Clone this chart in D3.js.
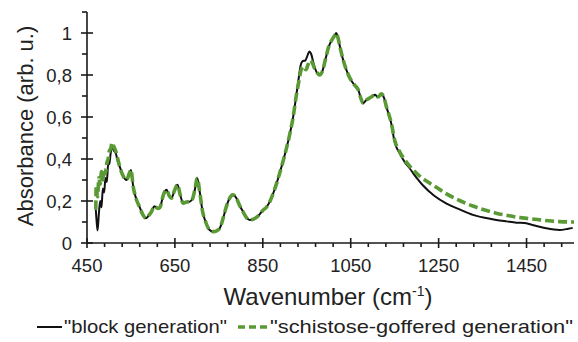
<!DOCTYPE html>
<html>
<head>
<meta charset="utf-8">
<script src="https://cdn.jsdelivr.net/npm/d3@7"></script>
<style>
  body { margin: 0; background: #fff; }
  svg { display: block; font-family: Arial, "Liberation Sans", sans-serif; }
</style>
</head>
<body>
<svg id="chart"></svg>
<script>
// "block generation" spectrum
const blockWn = [470, 472, 474, 477, 480, 483, 486, 489, 492, 495, 498, 501, 504, 507, 511, 515, 520, 525, 532, 540, 546, 550, 555, 562, 570, 577, 584, 590, 597, 603, 607, 612, 616, 624, 631, 637, 642, 649, 656, 662, 669, 676, 684, 690, 695, 701, 706, 713, 720, 729, 737, 745, 752, 760, 767, 775, 781, 786, 790, 797, 803, 810, 820, 830, 840, 850, 858, 866, 876, 888, 900, 911, 919, 926, 932, 936, 940, 947, 952, 956, 960, 966, 972, 979, 985, 992, 1000, 1008, 1014, 1017, 1020, 1026, 1033, 1040, 1047, 1055, 1062, 1067, 1073, 1078, 1085, 1093, 1100, 1105, 1112, 1120, 1126, 1131, 1137, 1142, 1150, 1161, 1173, 1184, 1200, 1214, 1240, 1267, 1300, 1328, 1355, 1381, 1405, 1427, 1445, 1460, 1475, 1495, 1525, 1545, 1555]
const blockAbs = [0.16, 0.10, 0.06, 0.14, 0.20, 0.17, 0.26, 0.24, 0.31, 0.29, 0.37, 0.38, 0.43, 0.465, 0.44, 0.43, 0.39, 0.36, 0.32, 0.30, 0.33, 0.348, 0.27, 0.21, 0.17, 0.135, 0.118, 0.13, 0.15, 0.175, 0.17, 0.165, 0.17, 0.23, 0.253, 0.225, 0.213, 0.25, 0.277, 0.23, 0.19, 0.195, 0.197, 0.21, 0.25, 0.308, 0.25, 0.15, 0.10, 0.062, 0.054, 0.058, 0.07, 0.12, 0.173, 0.215, 0.229, 0.225, 0.213, 0.18, 0.157, 0.13, 0.11, 0.115, 0.13, 0.155, 0.17, 0.197, 0.25, 0.33, 0.42, 0.515, 0.6, 0.7, 0.79, 0.845, 0.865, 0.87, 0.895, 0.912, 0.9, 0.85, 0.815, 0.80, 0.815, 0.87, 0.935, 0.97, 0.99, 1.0, 0.985, 0.93, 0.87, 0.825, 0.79, 0.762, 0.745, 0.73, 0.69, 0.666, 0.68, 0.69, 0.70, 0.706, 0.695, 0.71, 0.69, 0.65, 0.61, 0.571, 0.48, 0.428, 0.385, 0.356, 0.31, 0.275, 0.225, 0.189, 0.158, 0.134, 0.12, 0.11, 0.103, 0.097, 0.095, 0.088, 0.08, 0.07, 0.062, 0.068, 0.072]

// "schistose-goffered generation" spectrum
const schistWn = [470, 471, 474, 477, 480, 483, 486, 489, 492, 495, 498, 501, 504, 507, 511, 515, 520, 525, 532, 540, 546, 550, 555, 562, 570, 577, 584, 590, 597, 603, 607, 612, 616, 624, 631, 637, 642, 649, 656, 662, 669, 676, 684, 690, 695, 701, 706, 713, 720, 729, 737, 745, 752, 760, 767, 775, 781, 786, 790, 797, 803, 810, 820, 830, 840, 850, 858, 866, 876, 888, 900, 911, 919, 926, 932, 936, 942, 948, 953, 957, 962, 968, 974, 979, 985, 992, 1000, 1008, 1014, 1017, 1020, 1026, 1033, 1040, 1047, 1055, 1062, 1067, 1073, 1078, 1085, 1093, 1100, 1105, 1112, 1120, 1126, 1131, 1137, 1142, 1150, 1160, 1175, 1192, 1210, 1230, 1250, 1268, 1300, 1328, 1355, 1381, 1410, 1434, 1460, 1480, 1500, 1525, 1558]
const schistAbs = [0.16, 0.27, 0.22, 0.31, 0.28, 0.34, 0.30, 0.35, 0.33, 0.38, 0.40, 0.44, 0.45, 0.478, 0.46, 0.44, 0.40, 0.36, 0.32, 0.30, 0.33, 0.348, 0.27, 0.21, 0.17, 0.135, 0.118, 0.13, 0.15, 0.175, 0.17, 0.165, 0.17, 0.23, 0.253, 0.225, 0.213, 0.25, 0.277, 0.23, 0.19, 0.195, 0.197, 0.21, 0.25, 0.308, 0.25, 0.15, 0.10, 0.062, 0.054, 0.058, 0.07, 0.12, 0.173, 0.215, 0.229, 0.225, 0.213, 0.18, 0.157, 0.13, 0.11, 0.115, 0.13, 0.155, 0.17, 0.197, 0.25, 0.33, 0.42, 0.515, 0.6, 0.7, 0.77, 0.815, 0.84, 0.825, 0.85, 0.87, 0.86, 0.83, 0.81, 0.80, 0.815, 0.87, 0.935, 0.97, 0.99, 1.0, 0.985, 0.93, 0.87, 0.825, 0.79, 0.762, 0.745, 0.73, 0.69, 0.666, 0.68, 0.69, 0.70, 0.706, 0.695, 0.71, 0.69, 0.65, 0.61, 0.575, 0.49, 0.44, 0.39, 0.348, 0.313, 0.285, 0.258, 0.234, 0.2, 0.176, 0.157, 0.142, 0.13, 0.121, 0.115, 0.11, 0.106, 0.102, 0.1]

const xTicks = [450, 650, 850, 1050, 1250, 1450]
const yTicks = [0, 0.2, 0.4, 0.6, 0.8, 1]
const legendNames = ['"block generation"', '"schistose-goffered generation"']

const width = 578,
    height = 342
const svg = d3.select('#chart').attr('width', width).attr('height', height)

const x = d3.scaleLinear().domain([450, 1558]).range([87, 574])
const y = d3.scaleLinear().domain([0, 1.1]).range([243, 12])

const axisColor = '#1a1a1a'
const fmt = (d) => String(d).replace('.', ',')

// minor ticks (outside only)
const xMinor = d3.range(450, 1558, 40).filter((d) => (d - 450) % 200 !== 0)
const yMinor = d3.range(1, 12).map((i) => i / 10).filter((_, i) => i % 2 === 0)

const lines = svg.append('g')
const line = d3
    .line()
    .curve(d3.curveMonotoneX)
    .x((d) => x(d[0]))
    .y((d) => y(d[1]))

lines.append('path')
    .attr('d', line(d3.zip(blockWn, blockAbs)))
    .attr('fill', 'none')
    .attr('stroke', '#111')
    .attr('stroke-width', 2)

lines.append('path')
    .attr('d', line(d3.zip(schistWn, schistAbs)))
    .attr('fill', 'none')
    .attr('stroke', '#5a9a35')
    .attr('stroke-width', 3.6)
    .attr('stroke-dasharray', '9,4')

// axes
const axes = svg.append('g').attr('stroke', axisColor).attr('stroke-width', 1.6)
axes.append('line').attr('x1', x(450)).attr('x2', x(1558)).attr('y1', y(0)).attr('y2', y(0))
axes.append('line').attr('x1', x(450)).attr('x2', x(450)).attr('y1', y(0)).attr('y2', y(1.1))

axes.selectAll('.xmaj').data(xTicks).join('line')
    .attr('x1', (d) => x(d)).attr('x2', (d) => x(d))
    .attr('y1', y(0) - 5).attr('y2', y(0) + 5)
axes.selectAll('.xmin').data(xMinor).join('line')
    .attr('x1', (d) => x(d)).attr('x2', (d) => x(d))
    .attr('y1', y(0)).attr('y2', y(0) + 4)
axes.selectAll('.ymaj').data(yTicks).join('line')
    .attr('y1', (d) => y(d)).attr('y2', (d) => y(d))
    .attr('x1', x(450) - 6).attr('x2', x(450) + 6)
axes.selectAll('.ymin').data(yMinor).join('line')
    .attr('y1', (d) => y(d)).attr('y2', (d) => y(d))
    .attr('x1', x(450) - 5).attr('x2', x(450))

svg.append('g').selectAll('text').data(xTicks).join('text')
    .attr('x', (d) => x(d))
    .attr('y', 272)
    .attr('text-anchor', 'middle')
    .attr('font-size', 18.5)
    .attr('fill', '#222')
    .text((d) => d)

svg.append('g').selectAll('text').data(yTicks).join('text')
    .attr('x', 72)
    .attr('y', (d) => y(d) + 6.5)
    .attr('text-anchor', 'end')
    .attr('font-size', 18.5)
    .attr('fill', '#222')
    .text(fmt)

// axis titles
const xt = svg.append('text')
    .attr('x', 328)
    .attr('y', 305)
    .attr('text-anchor', 'middle')
    .attr('font-size', 24)
    .attr('fill', '#222')
xt.append('tspan').text('Wavenumber (cm')
xt.append('tspan').attr('font-size', 14).attr('dy', -9).text('-1')
xt.append('tspan').attr('dy', 9).text(')')

svg.append('text')
    .attr('transform', 'translate(33,126) rotate(-90)')
    .attr('text-anchor', 'middle')
    .attr('font-size', 22)
    .attr('fill', '#222')
    .text('Absorbance (arb. u.)')

// legend
const lg = svg.append('g').attr('font-size', 19).attr('fill', '#222')
lg.append('line').attr('x1', 37).attr('x2', 62).attr('y1', 327).attr('y2', 327)
    .attr('stroke', '#111').attr('stroke-width', 2)
lg.append('text').attr('x', 64).attr('y', 333)
    .attr('textLength', 163).attr('lengthAdjust', 'spacingAndGlyphs')
    .text(legendNames[0])
lg.append('line').attr('x1', 238).attr('x2', 267).attr('y1', 327).attr('y2', 327)
    .attr('stroke', '#5a9a35').attr('stroke-width', 3.6).attr('stroke-dasharray', '7,4')
lg.append('text').attr('x', 270).attr('y', 333)
    .attr('textLength', 303).attr('lengthAdjust', 'spacingAndGlyphs')
    .text(legendNames[1])
</script>
</body>
</html>
